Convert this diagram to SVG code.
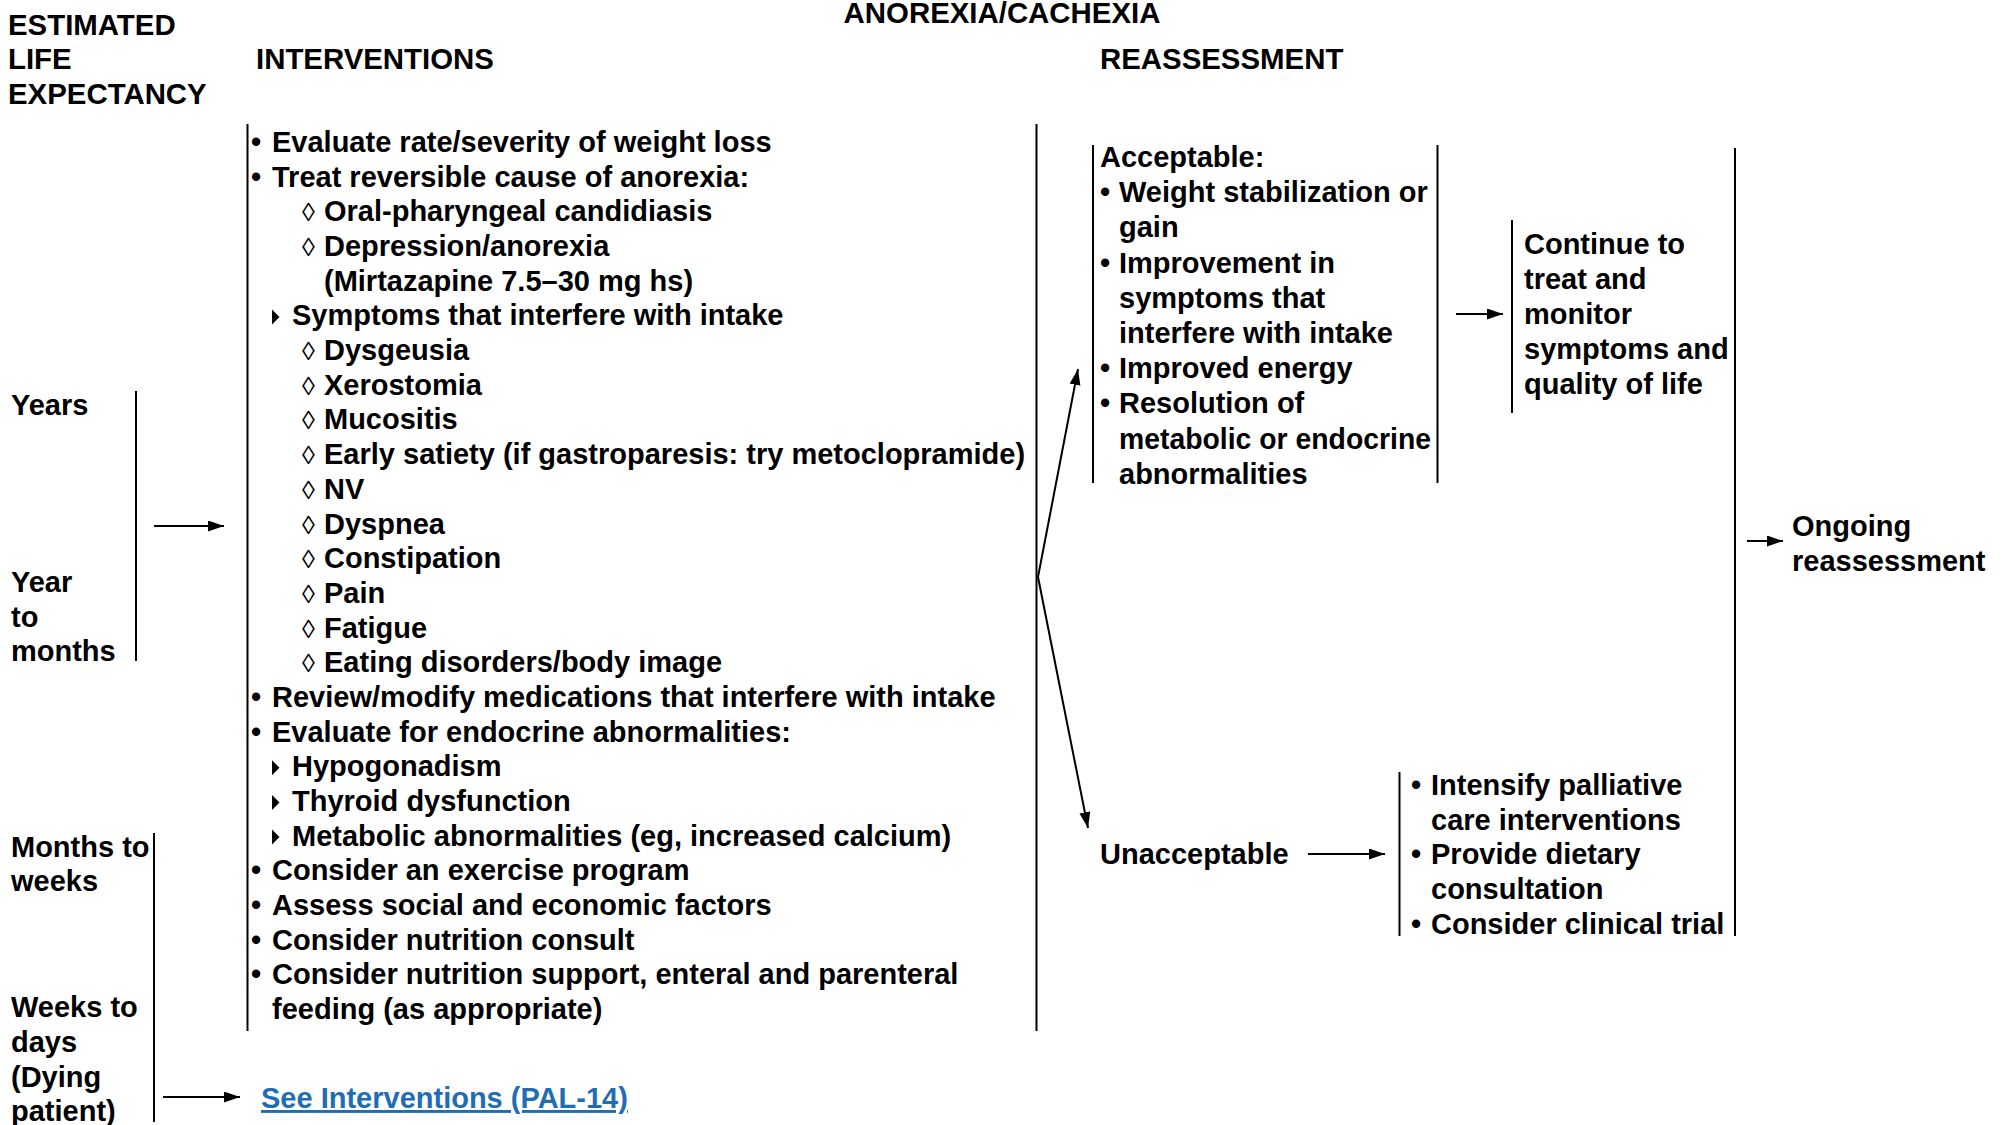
<svg xmlns="http://www.w3.org/2000/svg" width="2011" height="1125" viewBox="0 0 2011 1125">
<style>
text{font-family:"Liberation Sans",Arial,Helvetica,sans-serif;font-weight:bold;font-size:29px;fill:#000}
.h{font-size:29.4px}
.dia{font-weight:normal;font-size:26px}
.link{fill:#1f6db4;text-decoration:underline}
.br{stroke:#000;stroke-width:2;fill:none}
.con{stroke:#000;stroke-width:2;fill:none;marker-end:url(#ah)}
</style>
<defs>
<marker id="ah" markerUnits="userSpaceOnUse" markerWidth="17" markerHeight="12" refX="16" refY="5.5" orient="auto">
<path d="M0,0 L16,5.5 L0,11 z" fill="#000"/>
</marker>
<path id="tri" d="M0,-15 L7.5,-7.5 L0,0 z" fill="#000"/>
</defs>
<rect width="2011" height="1125" fill="#fff"/>

<g id="headers">
<text class="h" x="8" y="35">ESTIMATED</text>
<text class="h" x="8" y="69">LIFE</text>
<text class="h" x="8" y="104">EXPECTANCY</text>
<text class="h" x="256" y="69">INTERVENTIONS</text>
<text class="h" x="1002" y="23" text-anchor="middle">ANOREXIA/CACHEXIA</text>
<text class="h" x="1100" y="69">REASSESSMENT</text>
</g>

<g id="life-years">
<text x="11" y="415">Years</text>
<text x="11" y="592">Year</text>
<text x="11" y="627">to</text>
<text x="11" y="661">months</text>
<line class="br" x1="136" y1="391" x2="136" y2="661"/>
</g>

<g id="life-weeks">
<text x="11" y="857">Months to</text>
<text x="11" y="891">weeks</text>
<text x="11" y="1017">Weeks to</text>
<text x="11" y="1052">days</text>
<text x="11" y="1087">(Dying</text>
<text x="11" y="1121">patient)</text>
<line class="br" x1="154" y1="833" x2="154" y2="1122"/>
</g>

<g id="interventions">
<line class="br" x1="247.5" y1="124" x2="247.5" y2="1031"/>
<line class="br" x1="1036.5" y1="124" x2="1036.5" y2="1031"/>
<g transform="translate(0,2)">
<text x="251" y="150">•</text><text x="272" y="150">Evaluate rate/severity of weight loss</text>
<text x="251" y="184.7">•</text><text x="272" y="184.7">Treat reversible cause of anorexia:</text>
<text class="dia" x="302" y="219.4">◊</text><text x="324" y="219.4">Oral-pharyngeal candidiasis</text>
<text class="dia" x="302" y="254">◊</text><text x="324" y="254">Depression/anorexia</text>
<text x="324" y="288.7">(Mirtazapine 7.5–30 mg hs)</text>
<use href="#tri" x="272" y="322.4"/><text x="292" y="323.4">Symptoms that interfere with intake</text>
<text class="dia" x="302" y="358.1">◊</text><text x="324" y="358.1">Dysgeusia</text>
<text class="dia" x="302" y="392.8">◊</text><text x="324" y="392.8">Xerostomia</text>
<text class="dia" x="302" y="427.4">◊</text><text x="324" y="427.4">Mucositis</text>
<text class="dia" x="302" y="462.1">◊</text><text x="324" y="462.1">Early satiety (if gastroparesis: try metoclopramide)</text>
<text class="dia" x="302" y="496.8">◊</text><text x="324" y="496.8">NV</text>
<text class="dia" x="302" y="531.5">◊</text><text x="324" y="531.5">Dyspnea</text>
<text class="dia" x="302" y="566.2">◊</text><text x="324" y="566.2">Constipation</text>
<text class="dia" x="302" y="600.8">◊</text><text x="324" y="600.8">Pain</text>
<text class="dia" x="302" y="635.5">◊</text><text x="324" y="635.5">Fatigue</text>
<text class="dia" x="302" y="670.2">◊</text><text x="324" y="670.2">Eating disorders/body image</text>
<text x="251" y="704.9">•</text><text x="272" y="704.9">Review/modify medications that interfere with intake</text>
<text x="251" y="739.6">•</text><text x="272" y="739.6">Evaluate for endocrine abnormalities:</text>
<use href="#tri" x="272" y="773.2"/><text x="292" y="774.2">Hypogonadism</text>
<use href="#tri" x="272" y="807.9"/><text x="292" y="808.9">Thyroid dysfunction</text>
<use href="#tri" x="272" y="842.6"/><text x="292" y="843.6">Metabolic abnormalities (eg, increased calcium)</text>
<text x="251" y="878.3">•</text><text x="272" y="878.3">Consider an exercise program</text>
<text x="251" y="913">•</text><text x="272" y="913">Assess social and economic factors</text>
<text x="251" y="947.6">•</text><text x="272" y="947.6">Consider nutrition consult</text>
<text x="251" y="982.3">•</text><text x="272" y="982.3">Consider nutrition support, enteral and parenteral</text>
<text x="272" y="1017">feeding (as appropriate)</text>
</g>
</g>

<g id="see-interventions">
<text class="link" x="261" y="1108">See Interventions (PAL-14)</text>
</g>

<g id="acceptable">
<line class="br" x1="1093" y1="145" x2="1093" y2="483"/>
<line class="br" x1="1437.5" y1="145" x2="1437.5" y2="483"/>
<g transform="translate(0,2)">
<text x="1100" y="165">Acceptable:</text>
<text x="1100" y="200">•</text><text x="1119" y="200">Weight stabilization or</text>
<text x="1119" y="235.4">gain</text>
<text x="1100" y="270.6">•</text><text x="1119" y="270.6">Improvement in</text>
<text x="1119" y="305.8">symptoms that</text>
<text x="1119" y="341">interfere with intake</text>
<text x="1100" y="376.2">•</text><text x="1119" y="376.2">Improved energy</text>
<text x="1100" y="411.4">•</text><text x="1119" y="411.4">Resolution of</text>
<text x="1119" y="446.6" textLength="312" lengthAdjust="spacingAndGlyphs">metabolic or endocrine</text>
<text x="1119" y="481.8">abnormalities</text>
</g>
</g>

<g id="continue">
<line class="br" x1="1512" y1="220" x2="1512" y2="413"/>
<text x="1524" y="254">Continue to</text>
<text x="1524" y="289">treat and</text>
<text x="1524" y="324">monitor</text>
<text x="1524" y="359">symptoms and</text>
<text x="1524" y="394">quality of life</text>
</g>

<g id="unacceptable">
<text x="1100" y="864">Unacceptable</text>
</g>

<g id="intensify">
<line class="br" x1="1399.5" y1="772" x2="1399.5" y2="936"/>
<text x="1411" y="795">•</text><text x="1431" y="795">Intensify palliative</text>
<text x="1431" y="830">care interventions</text>
<text x="1411" y="864">•</text><text x="1431" y="864">Provide dietary</text>
<text x="1431" y="899">consultation</text>
<text x="1411" y="934">•</text><text x="1431" y="934">Consider clinical trial</text>
</g>

<g id="reassess-bracket">
<line class="br" x1="1735" y1="148" x2="1735" y2="936"/>
</g>

<g id="ongoing">
<text x="1792" y="536">Ongoing</text>
<text x="1792" y="571">reassessment</text>
</g>

<g id="connectors">
<line class="con" x1="154" y1="526" x2="224" y2="526"/>
<line class="con" x1="163" y1="1097" x2="240" y2="1097"/>
<line class="con" x1="1038" y1="577" x2="1078" y2="369"/>
<line class="con" x1="1038" y1="577" x2="1088" y2="828"/>
<line class="con" x1="1456" y1="314" x2="1503" y2="314"/>
<line class="con" x1="1308" y1="854" x2="1385" y2="854"/>
<line class="con" x1="1747" y1="541" x2="1783" y2="541"/>
</g>
</svg>
